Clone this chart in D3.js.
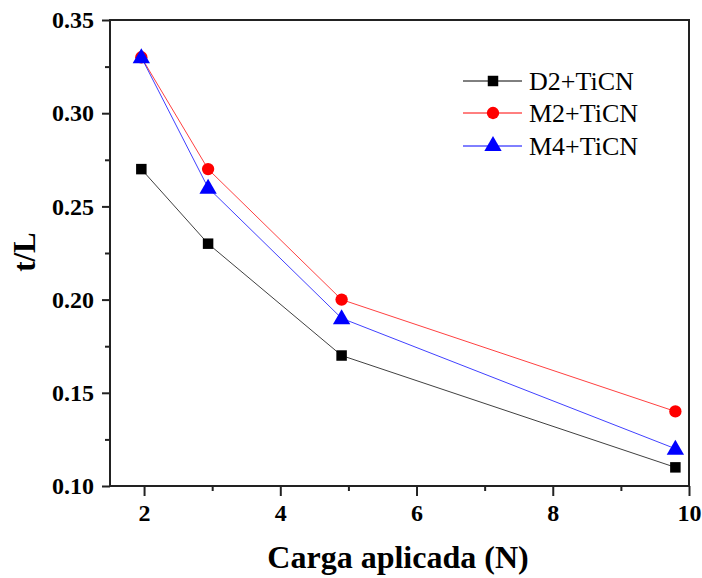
<!DOCTYPE html>
<html><head><meta charset="utf-8">
<script src="https://cdn.jsdelivr.net/npm/d3@7"></script>
<style>body{margin:0;background:#fff}svg{display:block}</style>
</head><body>
<svg id="c" width="702" height="578"></svg>
<script>
const loads = [1.96, 2.94, 4.9, 9.8];
const d2 = [0.27, 0.23, 0.17, 0.11];
const m2 = [0.33, 0.27, 0.20, 0.14];
const m4 = [0.33, 0.26, 0.19, 0.12];
const seriesNames = ["D2+TiCN", "M2+TiCN", "M4+TiCN"];
const seriesColors = ["#000000", "#ff0000", "#0000ff"];
const seriesSymbols = ["square", "circle", "triangle"];
const xTicks = [2, 4, 6, 8, 10];
const yTicks = [0.10, 0.15, 0.20, 0.25, 0.30, 0.35];

const svg = d3.select("#c");
const L = 110, R = 689, T = 20, B = 486;
const x = d3.scaleLinear().domain([1.5, 10]).range([L, R]);
const y = d3.scaleLinear().domain([0.10, 0.35]).range([B, T]);
const font = '"Liberation Serif","Times New Roman",serif';
const axCol = "#222";

function styleText(sel, size, bold) {
  sel.attr("font-family", null).style("font-family", font)
    .style("font-size", size + "px").style("font-weight", bold ? "bold" : "normal").attr("fill", "#000");
}

// frame
svg.append("rect").attr("x", L).attr("y", T).attr("width", R - L).attr("height", B - T)
  .attr("fill", "none").attr("stroke", axCol).attr("stroke-width", 2);

// x axis
const xa = svg.append("g").attr("transform", `translate(0,${B})`)
  .call(d3.axisBottom(x).tickValues(xTicks).tickSize(10).tickPadding(8).tickFormat(d3.format("d")));
xa.attr("font-family", null).attr("font-size", null);
xa.select(".domain").remove();
xa.selectAll("line").attr("stroke", axCol).attr("stroke-width", 2);
styleText(xa.selectAll("text"), 24, true);
const xm = svg.append("g").attr("transform", `translate(0,${B})`)
  .call(d3.axisBottom(x).tickValues([3, 5, 7, 9]).tickSize(5).tickFormat(""));
xm.select(".domain").remove();
xm.selectAll("line").attr("stroke", axCol).attr("stroke-width", 2);

// y axis
const ya = svg.append("g").attr("transform", `translate(${L},0)`)
  .call(d3.axisLeft(y).tickValues(yTicks).tickSize(8).tickPadding(8).tickFormat(d3.format(".2f")));
ya.attr("font-family", null).attr("font-size", null);
ya.select(".domain").remove();
ya.selectAll("line").attr("stroke", axCol).attr("stroke-width", 2);
styleText(ya.selectAll("text"), 24, true);
const ym = svg.append("g").attr("transform", `translate(${L},0)`)
  .call(d3.axisLeft(y).tickValues([0.125, 0.175, 0.225, 0.275, 0.325]).tickSize(5).tickFormat(""));
ym.select(".domain").remove();
ym.selectAll("line").attr("stroke", axCol).attr("stroke-width", 2);

// titles
styleText(svg.append("text").attr("x", 398).attr("y", 568).attr("text-anchor", "middle")
  .text("Carga aplicada (N)"), 32, true);
styleText(svg.append("text").attr("transform", "translate(35,252) rotate(-90)").attr("text-anchor", "middle")
  .text("t/L"), 31, true);

const symType = { square: d3.symbolSquare, circle: d3.symbolCircle, triangle: d3.symbolTriangle };
const symSize = { square: 110, circle: 120, triangle: 130 };
const line = d3.line().x((d, i) => x(loads[i])).y(d => y(d));
const allSeries = [d2, m2, m4];

allSeries.forEach((vals, s) => {
  svg.append("path").attr("d", line(vals)).attr("fill", "none")
    .attr("stroke", seriesColors[s]).attr("stroke-width", 1).attr("opacity", 0.75);
});
allSeries.forEach((vals, s) => {
  svg.selectAll(null).data(vals).enter().append("path")
    .attr("transform", (d, i) => `translate(${x(loads[i])},${y(d) + (seriesSymbols[s] === "triangle" ? 1 : 0)})`)
    .attr("d", d3.symbol().type(symType[seriesSymbols[s]]).size(symSize[seriesSymbols[s]]))
    .attr("fill", seriesColors[s]);
});

// legend
const legY = [81, 113, 146];
seriesNames.forEach((n, s) => {
  const g = svg.append("g").attr("transform", `translate(0,${legY[s]})`);
  g.append("line").attr("x1", 463).attr("x2", 522).attr("y1", 0).attr("y2", 0)
    .attr("stroke", seriesColors[s]).attr("stroke-width", 1);
  g.append("path").attr("transform", "translate(493,0)")
    .attr("d", d3.symbol().type(symType[seriesSymbols[s]]).size(symSize[seriesSymbols[s]]))
    .attr("fill", seriesColors[s]);
  styleText(g.append("text").attr("x", 529).attr("y", 9).text(n), 26, false);
});
</script>
</body></html>
